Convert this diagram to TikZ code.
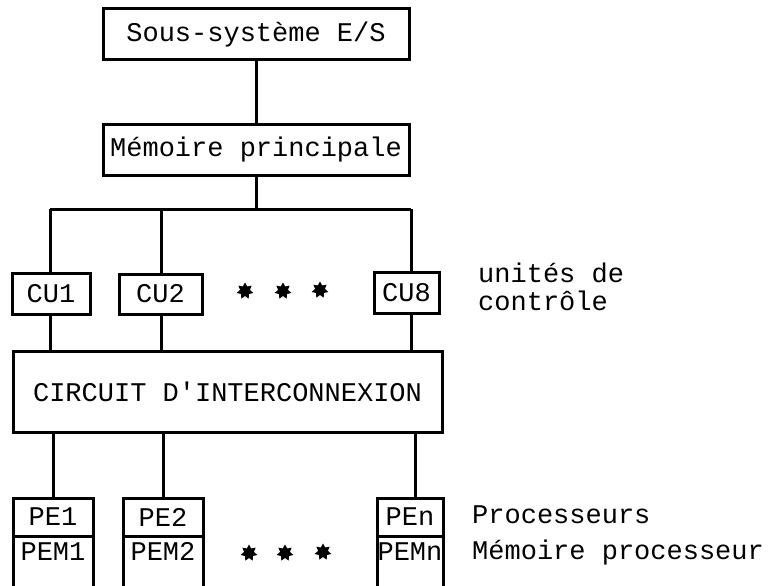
\documentclass[tikz,border=0pt]{standalone}
\usepackage{fontspec}
\setmonofont{Liberation Mono}
\usepackage{tikz}
\usetikzlibrary{shapes.geometric}

\tikzset{
  boite/.style={draw, rectangle, line width=3pt, inner sep=0pt, outer sep=0pt},
  fil/.style={line width=3pt},
  etoile/.style={star, star points=7, star point ratio=1.7, fill=black, inner sep=0pt, minimum size=17pt},
  legende/.style={anchor=west, align=left, inner sep=0pt},
  pem/.style={boite, anchor=north, text height=20pt, text depth=30pt}
}

\begin{document}
\begin{tikzpicture}[x=1pt, y=-1pt, font=\ttfamily\fontsize{27}{24}\selectfont]
  \useasboundingbox (0,0) rectangle (774,586);
  \clip (0,0) rectangle (774,586);
           \node[boite, minimum width=306, minimum height=51](es)  at (256,34.5) {Sous-système E/S};
          \node[boite, minimum width=306, minimum height=51](mp)  at (256,149.5) {Mémoire principale};
      \coordinate (bus1) at (50,209);
      \coordinate (bus8) at (411,209);
      \coordinate (busm) at (256,209);
      \coordinate (bus2) at (161,209);
      \draw[fil] (es) -- (mp);
      \draw[fil] (mp) -- (busm);
      \draw[fil] (bus1) -- (bus8);

      \node[boite, minimum width=78, minimum height=41](cu1)  at (51,293.5) {CU1};
      \node[boite, minimum width=83, minimum height=40](cu2)  at (160.5,294) {CU2};
      \node[boite, minimum width=65, minimum height=41](cu8)  at (406.5,292.5) {CU8};
      \node[etoile](s1) at (245,291) {};
      \node[etoile](s2) at (283,291) {};
      \node[etoile](s3) at (320,290) {};
      \node[legende](uc) at (478,287) {unités de\\[4pt]contrôle};
       \draw[fil] (bus1) -- (bus1 |- cu1.north);
        \draw[fil] (bus2) -- (bus2 |- cu2.north);
        \draw[fil] (bus8) -- (bus8 |- cu8.north);

      \node[boite, minimum width=429, minimum height=81](ci)  at (227.5,391.5) {CIRCUIT D'INTERCONNEXION};
       \draw[fil] (cu1.south -| bus1) -- (bus1 |- ci.north);
        \draw[fil] (cu2.south -| bus2) -- (bus2 |- ci.north);
        \draw[fil] (cu8.south -| bus8) -- (bus8 |- ci.north);

      \node[boite, minimum width=80, minimum height=38](pe1)  at (53,517) {PE1};
      \node[boite, minimum width=80, minimum height=38](pe2)  at (163,517) {PE2};
      \node[boite, minimum width=66, minimum height=38](pen)  at (410,517) {PEn};
      \node[pem, minimum width=80, minimum height=58](pem1)  at (pe1.south) {PEM1};
      \node[pem, minimum width=80, minimum height=58](pem2)  at (pe2.south) {PEM2};
      \node[pem, minimum width=66, minimum height=58](pemn)  at (pen.south) {PEMn};
      \node[etoile](t1) at (249,553) {};
      \node[etoile](t2) at (285,553) {};
      \node[etoile](t3) at (323,552) {};
      \node[legende](proc) at (472,515) {Processeurs};
      \node[legende](memp) at (472,553) {Mémoire processeur};
       \draw[fil] (ci.south -| pe1) -- (pe1);
        \draw[fil] (ci.south -| pe2) -- (pe2);
        \draw[fil] (ci.south -| 415,0) -- (pen.north -| 415,0);
          \end{tikzpicture}
\end{document}
